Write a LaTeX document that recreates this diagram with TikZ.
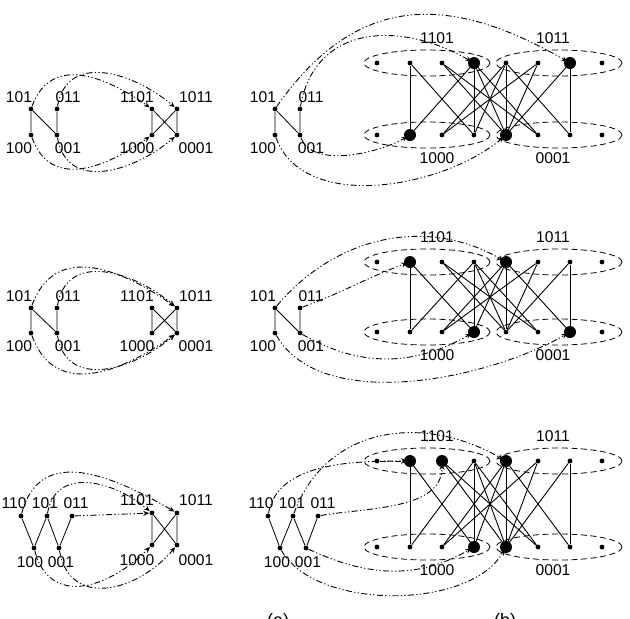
\documentclass[tikz,border=0pt]{standalone}
\usepackage{fontspec}
\setmainfont{Liberation Sans}
\usetikzlibrary{arrows.meta,shapes.geometric}

\tikzset{
  dot/.style={circle, fill, inner sep=0pt, minimum size=2.4pt},
  big/.style={circle, fill, inner sep=0pt, minimum size=6pt},
  lbl/.style={font=\fontsize{7.8}{9}\selectfont, inner sep=1pt},
  group/.style={draw, dash pattern=on 3pt off 1.8pt, ellipse, minimum width=63pt, minimum height=13pt, inner sep=0pt},
  map/.style={-{Stealth[length=3pt,width=2.5pt]}, line width=0.45pt,
    dash pattern=on 3pt off 1.2pt on .6pt off 1.2pt on .6pt off 1.2pt},
}

% one panel of the right hand graph: #1 name, #2 top row, #3 bottom row
\newcommand{\prodgraph}[3]{
  \node[group] (#1e1) at (427,-#2) {};
  \node[group] (#1e2) at (559,-#2) {};
  \node[group] (#1e3) at (427,-#3) {};
  \node[group] (#1e4) at (559,-#3) {};
  \node[lbl] at (437,-#2+25) {1101};
  \node[lbl] at (553,-#2+25) {1011};
  \node[lbl] at (437,-#3-23) {1000};
  \node[lbl] at (553,-#3-23) {0001};
  \foreach \i/\x in {1/377,2/410,3/442,4/474,5/506,6/538,7/570,8/602}{
    \node[dot] (#1t\i) at (\x,-#2) {};
    \node[dot] (#1b\i) at (\x,-#3) {};
  }
  \foreach \s/\t in {2/2,2/4,3/5,3/6,4/2,4/4,4/5,4/6,5/3,5/4,5/5,5/7,6/3,6/5,7/5,7/7}
    \draw[line width=0.45pt] (#1t\s) -- (#1b\t);
}

\begin{document}
\begin{tikzpicture}[x=0.5pt, y=0.5pt]
\useasboundingbox (0,-618) rectangle (630,0);

%% first row
\foreach \n/\x/\y in {a/31/109, b/57/109, c/31/135, d/57/135}
  \node[dot] (L1\n) at (\x,-\y) {};
\foreach \n/\x/\y in {a/152/109, b/177/109, c/152/135, d/177/135}
  \node[dot] (S1\n) at (\x,-\y) {};
\foreach \n/\x/\y in {a/275/109, b/300/109, c/275/135, d/300/135}
  \node[dot] (M1\n) at (\x,-\y) {};
\node[lbl] at (19,-97) {101};   \node[lbl] at (68,-97) {011};
\node[lbl] at (19,-148) {100};  \node[lbl] at (68,-148) {001};
\node[lbl] at (137,-97) {1101}; \node[lbl] at (196,-97) {1011};
\node[lbl] at (137,-148) {1000};\node[lbl] at (196,-148) {0001};
\node[lbl] at (263,-97) {101};  \node[lbl] at (311,-97) {011};
\node[lbl] at (263,-148) {100}; \node[lbl] at (311,-148) {001};
\draw (L1a) -- (L1c) (L1a) -- (L1d) (L1b) -- (L1d);
\draw (M1a) -- (M1c) (M1a) -- (M1d) (M1b) -- (M1d);
\draw (S1a) -- (S1c) (S1a) -- (S1d) (S1b) -- (S1d) (S1b) -- (S1c);
\prodgraph{P1}{63}{135}
\node[big] at (P1t4) {}; \node[big] at (P1t7) {};
\node[big] at (P1b2) {}; \node[big] at (P1b5) {};
\draw[map] (L1a) to[out=70,in=145,looseness=1.2] (S1a);
\draw[map] (L1b) to[out=80,in=140,looseness=1.2] (S1b);
\draw[map] (L1c) to[out=-70,in=-145,looseness=1.2] (S1c);
\draw[map] (L1d) to[out=-80,in=-140,looseness=1.2] (S1d);
\draw[map] (M1a) to[out=55,in=150,looseness=1.2] (P1t7);
\draw[map] (M1b) to[out=80,in=150,looseness=1.2] (P1t4);
\draw[map] (M1c) to[out=-70,in=-140,looseness=0.9] (P1b5);
\draw[map] (M1d) to[out=-70,in=-150,looseness=0.8] (P1b2);

%% second row
\foreach \n/\x/\y in {a/31/308, b/57/308, c/31/333, d/57/333}
  \node[dot] (L2\n) at (\x,-\y) {};
\foreach \n/\x/\y in {a/152/308, b/177/308, c/152/333, d/177/333}
  \node[dot] (S2\n) at (\x,-\y) {};
\foreach \n/\x/\y in {a/275/308, b/300/308, c/275/333, d/300/333}
  \node[dot] (M2\n) at (\x,-\y) {};
\node[lbl] at (19,-296) {101};   \node[lbl] at (68,-296) {011};
\node[lbl] at (19,-346) {100};   \node[lbl] at (68,-346) {001};
\node[lbl] at (137,-296) {1101}; \node[lbl] at (196,-296) {1011};
\node[lbl] at (137,-346) {1000}; \node[lbl] at (196,-346) {0001};
\node[lbl] at (263,-296) {101};  \node[lbl] at (311,-296) {011};
\node[lbl] at (263,-346) {100};  \node[lbl] at (311,-346) {001};
\draw (L2a) -- (L2c) (L2a) -- (L2d) (L2b) -- (L2d);
\draw (M2a) -- (M2c) (M2a) -- (M2d) (M2b) -- (M2d);
\draw (S2a) -- (S2c) (S2a) -- (S2d) (S2b) -- (S2d) (S2b) -- (S2c);
\prodgraph{P2}{262}{332}
\node[big] at (P2t2) {}; \node[big] at (P2t5) {};
\node[big] at (P2b4) {}; \node[big] at (P2b7) {};
\draw[map] (L2a) to[out=70,in=145,looseness=1.2] (S2b);
\draw[map] (L2b) to[out=80,in=140,looseness=1.2] (S2b);
\draw[map] (L2c) to[out=-70,in=-145,looseness=1.2] (S2d);
\draw[map] (L2d) to[out=-80,in=-140,looseness=1.2] (S2d);
\draw[map] (M2a) to[out=50,in=150,looseness=1.0] (P2t5);
\draw[map] (M2b) to[out=20,in=200] (P2t2);
\draw[map] (M2c) to[out=-60,in=-150,looseness=0.8] (P2b7);
\draw[map] (M2d) to[out=-30,in=-150] (P2b4);

%% third row
\foreach \n/\x/\y in {a/21/516, b/47/516, c/72/516, d/34/548, e/59/548}
  \node[dot] (L3\n) at (\x,-\y) {};
\foreach \n/\x/\y in {a/152/513, b/177/513, c/152/545, d/177/545}
  \node[dot] (S3\n) at (\x,-\y) {};
\foreach \n/\x/\y in {a/268/516, b/293/516, c/318/516, d/280/548, e/306/548}
  \node[dot] (M3\n) at (\x,-\y) {};
\node[lbl] at (14,-503) {110}; \node[lbl] at (45,-503) {101}; \node[lbl] at (76,-503) {011};
\node[lbl] at (30,-562) {100}; \node[lbl] at (61,-562) {001};
\node[lbl] at (137,-500) {1101}; \node[lbl] at (196,-500) {1011};
\node[lbl] at (137,-560) {1000}; \node[lbl] at (196,-560) {0001};
\node[lbl] at (261,-503) {110}; \node[lbl] at (292,-503) {101}; \node[lbl] at (323,-503) {011};
\node[lbl] at (277,-562) {100}; \node[lbl] at (308,-562) {001};
\draw (L3a) -- (L3d) -- (L3b) -- (L3e) -- (L3c);
\draw (M3a) -- (M3d) -- (M3b) -- (M3e) -- (M3c);
\draw (S3a) -- (S3c) (S3a) -- (S3d) (S3b) -- (S3d) (S3b) -- (S3c);
\prodgraph{P3}{461}{547}
\node[big] at (P3t2) {}; \node[big] at (P3t3) {}; \node[big] at (P3t5) {};
\node[big] at (P3b4) {}; \node[big] at (P3b5) {};
\draw[map] (L3a) to[out=75,in=150,looseness=1.2] (S3b);
\draw[map] (L3b) to[out=80,in=140,looseness=1.2] (S3a);
\draw[map] (L3c) -- (S3a);
\draw[map] (L3d) to[out=-75,in=-135,looseness=1.3] (S3c);
\draw[map] (L3e) to[out=-80,in=-130,looseness=1.3] (S3d);
\draw[map] (M3a) to[out=80,in=180,looseness=0.9] (P3t2);
\draw[map] (P3t1) -- (P3t2);
\draw[map] (M3b) to[out=70,in=150,looseness=1.1] (P3t5);
\draw[map] (M3c) to[out=10,in=-90,looseness=0.9] (P3t3);
\draw[map] (M3d) to[out=-60,in=-120,looseness=0.8] (P3b5);
\draw[map] (M3e) to[out=-25,in=-150] (P3b4);

%% captions, cut by the page edge
\node[font=\fontsize{9}{10}\selectfont, anchor=north] at (278,-606) {(a)};
\node[font=\fontsize{9}{10}\selectfont, anchor=north] at (505,-606) {(b)};
\end{tikzpicture}
\end{document}
